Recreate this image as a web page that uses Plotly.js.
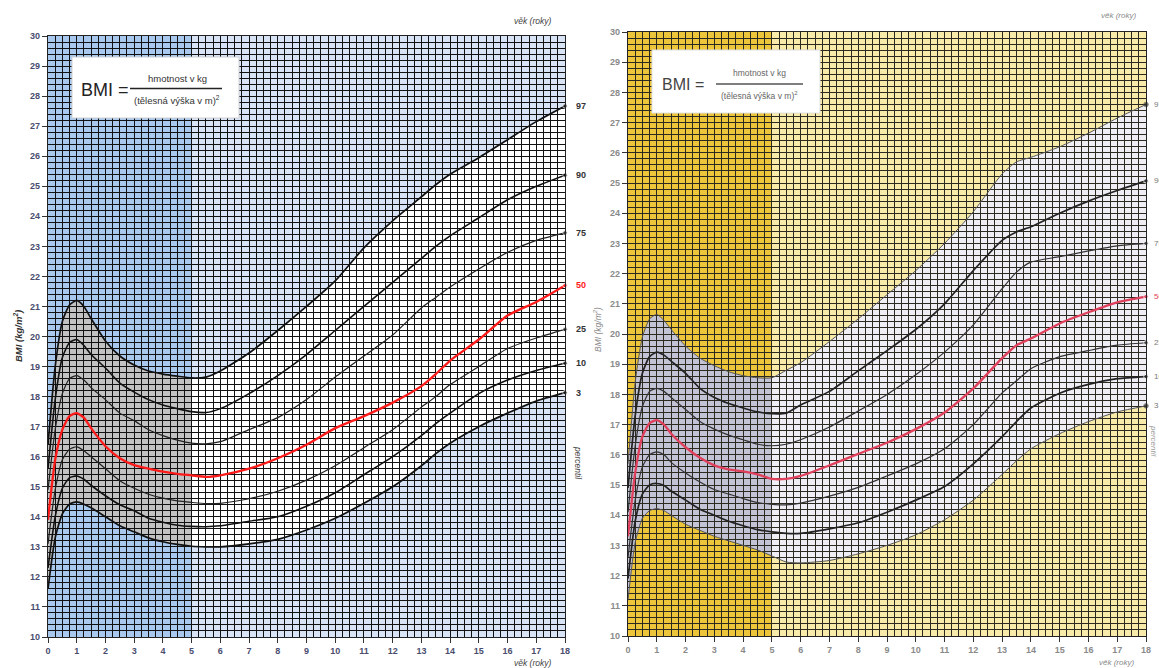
<!DOCTYPE html>
<html><head><meta charset="utf-8">
<script src="https://cdn.plot.ly/plotly-3.0.1.min.js"></script>
<style>html,body{margin:0;padding:0;background:#fff;} #chart{width:1159px;height:668px;}</style>
</head><body><div id="chart"></div>
<script>
// Age in years (x axis of both charts)
const ages = [0,0.25,0.5,0.75,1,1.25,1.5,2,2.5,3,3.5,4,4.5,5,5.5,6,7,8,9,10,11,12,13,13.5,14,15,16,17,18];

// Left chart (boys) BMI percentiles
const boysP97 = [16.4,19.0,20.5,21.05,21.2,21.0,20.6,19.85,19.35,19.05,18.85,18.75,18.68,18.62,18.65,18.85,19.45,20.2,21.0,21.85,22.95,23.85,24.65,25.05,25.4,25.95,26.55,27.15,27.67];
const boysP90 = [15.6,17.9,19.3,19.8,19.9,19.7,19.4,18.95,18.45,18.15,17.9,17.72,17.6,17.5,17.47,17.6,18.1,18.7,19.4,20.2,21.0,21.8,22.6,23.0,23.35,23.95,24.55,25.0,25.37];
const boysP75 = [14.9,16.9,18.1,18.6,18.7,18.55,18.3,17.9,17.45,17.2,16.9,16.7,16.55,16.45,16.43,16.5,16.9,17.3,17.9,18.65,19.35,20.05,20.95,21.3,21.65,22.25,22.8,23.2,23.45];
const boysP50 = [13.9,15.9,16.9,17.35,17.45,17.3,16.95,16.35,15.95,15.72,15.6,15.5,15.43,15.38,15.33,15.38,15.6,15.95,16.4,16.95,17.35,17.8,18.35,18.75,19.2,19.9,20.7,21.15,21.7];
const boysP25 = [13.1,14.9,15.9,16.25,16.33,16.2,16.0,15.6,15.2,14.95,14.75,14.62,14.53,14.48,14.44,14.45,14.6,14.85,15.22,15.7,16.3,16.9,17.65,18.0,18.4,19.0,19.6,19.95,20.24];
const boysP10 = [12.3,14.0,14.95,15.3,15.36,15.25,15.05,14.7,14.4,14.2,13.95,13.82,13.72,13.68,13.67,13.7,13.85,14.0,14.35,14.8,15.4,16.0,16.7,17.1,17.45,18.1,18.55,18.87,19.11];
const boysP3  = [11.6,13.3,14.1,14.42,14.5,14.42,14.3,14.0,13.7,13.5,13.3,13.17,13.08,13.02,13.0,13.0,13.1,13.25,13.56,13.95,14.45,15.0,15.7,16.1,16.45,17.0,17.45,17.85,18.13];

// Right chart (girls) BMI percentiles
const girlsP97 = [15.7,18.4,19.9,20.5,20.65,20.45,20.15,19.6,19.2,18.95,18.75,18.62,18.55,18.55,18.8,19.05,19.75,20.5,21.3,22.1,23.0,24.05,25.3,25.7,25.85,26.2,26.65,27.15,27.6];
const girlsP90 = [14.9,17.3,18.7,19.25,19.4,19.3,19.1,18.7,18.2,17.9,17.7,17.55,17.42,17.36,17.38,17.65,18.1,18.78,19.45,20.15,21.0,22.1,23.1,23.38,23.55,24.0,24.4,24.75,25.07];
const girlsP75 = [14.1,16.3,17.6,18.1,18.2,18.1,17.9,17.5,17.1,16.85,16.65,16.5,16.35,16.3,16.35,16.5,16.92,17.45,18.0,18.65,19.4,20.3,21.5,22.05,22.38,22.56,22.75,22.92,23.0];
const girlsP50 = [13.3,15.4,16.6,17.05,17.15,17.0,16.7,16.25,15.9,15.65,15.52,15.45,15.35,15.2,15.2,15.3,15.65,16.03,16.4,16.85,17.4,18.2,19.2,19.63,19.85,20.35,20.72,21.05,21.24];
const girlsP25 = [12.6,14.5,15.6,16.0,16.1,16.0,15.75,15.4,15.1,14.85,14.7,14.55,14.42,14.36,14.34,14.4,14.63,14.92,15.3,15.7,16.2,17.0,18.05,18.45,18.85,19.25,19.45,19.63,19.71];
const girlsP10 = [11.9,13.8,14.7,15.0,15.05,14.98,14.8,14.5,14.2,14.0,13.8,13.65,13.52,13.45,13.4,13.4,13.55,13.75,14.1,14.5,14.95,15.7,16.6,17.1,17.55,18.04,18.33,18.52,18.59];
const girlsP3  = [11.2,13.1,13.9,14.15,14.22,14.15,14.0,13.7,13.5,13.3,13.15,13.0,12.85,12.65,12.45,12.42,12.5,12.72,13.0,13.35,13.85,14.5,15.35,15.8,16.2,16.7,17.1,17.42,17.62];

const percentileLabels = ['97','90','75','50','25','10','3'];
const xTickVals = [0,1,2,3,4,5,6,7,8,9,10,11,12,13,14,15,16,17,18];
const yTickVals = [10,11,12,13,14,15,16,17,18,19,20,21,22,23,24,25,26,27,28,29,30];
const infantEnd = 5;   // boundary of the shaded 0-5 year zone
const xMin = 0, xMax = 18, yMin = 10, yMax = 30;

const boys  = [boysP97, boysP90, boysP75, boysP50, boysP25, boysP10, boysP3];
const girls = [girlsP97, girlsP90, girlsP75, girlsP50, girlsP25, girlsP10, girlsP3];

const FONT = 'Liberation Sans, Arial, sans-serif';
const W = 1159, H = 668;
const px = v => v / W;
const py = v => 1 - v / H;

function band(xs, up, lo, a, b) {
  const idx = xs.map((x, i) => i).filter(i => xs[i] >= a && xs[i] <= b);
  let p = idx.map((i, k) => (k ? 'L' : 'M') + xs[i] + ',' + up[i]).join(' ');
  p += ' ' + idx.slice().reverse().map(i => 'L' + xs[i] + ',' + lo[i]).join(' ') + ' Z';
  return p;
}

const traces = [];
function addLines(set, xa, ya, styles) {
  set.forEach((arr, k) => {
    const st = styles[k];
    traces.push({
      x: ages, y: arr, xaxis: xa, yaxis: ya, type: 'scatter', mode: 'lines+markers',
      line: {color: st.color, width: st.width, shape: 'spline', smoothing: 0.6},
      marker: {size: ages.map((a, i) => i === ages.length - 1 ? 4.5 : 0), color: st.mcolor || st.color},
      hoverinfo: 'skip', showlegend: false, cliponaxis: false
    });
  });
}
const boyStyles = [
  {color:'#111', width:1.7}, {color:'#111', width:1.6}, {color:'#222', width:1.2},
  {color:'#ff1a1a', width:2.3}, {color:'#222', width:1.2}, {color:'#111', width:1.6}, {color:'#111', width:1.7}
];
const girlStyles = [
  {color:'#555', width:1.0, mcolor:'#222'}, {color:'#222', width:1.7}, {color:'#333', width:1.2},
  {color:'#e0405c', width:2.3}, {color:'#333', width:1.2}, {color:'#222', width:1.7}, {color:'#555', width:1.0, mcolor:'#222'}
];
addLines(boys, 'x', 'y', boyStyles);
addLines(girls, 'x2', 'y2', girlStyles);

function axisX(domain, anchor, tickColor, gridColor) {
  return {
    domain, anchor, range: [xMin, xMax], tickvals: xTickVals, ticktext: xTickVals.map(String),
    ticks: 'outside', ticklen: 5, tickwidth: 1, tickcolor: '#333',
    showgrid: true, gridcolor: gridColor, gridwidth: 1,
    minor: {dtick: 0.25, tick0: 0, showgrid: true, gridcolor: gridColor, gridwidth: 1},
    showline: true, linecolor: '#222', linewidth: 1.2, mirror: true, zeroline: false,
    tickfont: {size: 9, color: tickColor, family: FONT, weight: 700}, fixedrange: true
  };
}
function axisY(domain, anchor, tickColor, gridColor) {
  return {
    domain, anchor, range: [yMin, yMax], tickvals: yTickVals, ticktext: yTickVals.map(String),
    ticks: 'outside', ticklen: 5, tickwidth: 1, tickcolor: '#333',
    showgrid: true, gridcolor: gridColor, gridwidth: 1,
    minor: {dtick: 0.2, tick0: 0, showgrid: true, gridcolor: gridColor, gridwidth: 1},
    showline: true, linecolor: '#222', linewidth: 1.2, mirror: true, zeroline: false,
    tickfont: {size: 9, color: tickColor, family: FONT, weight: 700}, fixedrange: true
  };
}

const shapes = [
  // boys backgrounds
  {type:'rect', xref:'x', yref:'y', x0:xMin, x1:infantEnd, y0:yMin, y1:yMax, fillcolor:'#a9c8ee', line:{width:0}, layer:'below'},
  {type:'rect', xref:'x', yref:'y', x0:infantEnd, x1:xMax, y0:yMin, y1:yMax, fillcolor:'#d8e4f6', line:{width:0}, layer:'below'},
  {type:'path', xref:'x', yref:'y', path: band(ages, boysP97, boysP3, xMin, infantEnd), fillcolor:'#c2c2c2', line:{width:0}, layer:'below'},
  {type:'path', xref:'x', yref:'y', path: band(ages, boysP97, boysP3, infantEnd, xMax), fillcolor:'#ffffff', line:{width:0}, layer:'below'},
  // girls backgrounds
  {type:'rect', xref:'x2', yref:'y2', x0:xMin, x1:infantEnd, y0:yMin, y1:yMax, fillcolor:'#ecc53a', line:{width:0}, layer:'below'},
  {type:'rect', xref:'x2', yref:'y2', x0:infantEnd, x1:xMax, y0:yMin, y1:yMax, fillcolor:'#f8eaa8', line:{width:0}, layer:'below'},
  {type:'path', xref:'x2', yref:'y2', path: band(ages, girlsP97, girlsP3, xMin, infantEnd), fillcolor:'#c3c3d6', line:{width:0}, layer:'below'},
  {type:'path', xref:'x2', yref:'y2', path: band(ages, girlsP97, girlsP3, infantEnd, xMax), fillcolor:'#eeeef4', line:{width:0}, layer:'below'},
  // formula boxes
  {type:'rect', xref:'paper', yref:'paper', x0:px(72), x1:px(239), y0:py(118), y1:py(57), fillcolor:'#ffffff', line:{color:'#d0d0d0', width:1}, layer:'above'},
  {type:'line', xref:'paper', yref:'paper', x0:px(130), x1:px(222), y0:py(88.5), y1:py(88.5), line:{color:'#222', width:1.5}, layer:'above'},
  {type:'rect', xref:'paper', yref:'paper', x0:px(652), x1:px(820), y0:py(113), y1:py(50), fillcolor:'#ffffff', line:{color:'#e0e0e0', width:1}, layer:'above'},
  {type:'line', xref:'paper', yref:'paper', x0:px(716), x1:px(803), y0:py(84), y1:py(84), line:{color:'#555', width:1.4}, layer:'above'}
];

const ann = [];
function txt(x, y, text, opts) {
  ann.push(Object.assign({xref:'paper', yref:'paper', x:px(x), y:py(y), text, showarrow:false,
    xanchor:'center', yanchor:'middle', font:{family:FONT, size:9, color:'#333'}}, opts || {}));
}
// formula texts
txt(105, 90, 'BMI =', {font:{family:FONT, size:18, color:'#222'}});
txt(177, 79, 'hmotnost v kg', {font:{family:FONT, size:9.5, color:'#333'}});
txt(177, 100, '(tělesná výška v m)<sup>2</sup>', {font:{family:FONT, size:9.5, color:'#333'}});
txt(683, 84, 'BMI =', {font:{family:FONT, size:16, color:'#444'}});
txt(760, 73, 'hmotnost v kg', {font:{family:FONT, size:8.5, color:'#666'}});
txt(760, 95, '(tělesná výška v m)<sup>2</sup>', {font:{family:FONT, size:8.5, color:'#666'}});
// axis titles
txt(532, 21, 'věk (roky)', {font:{family:FONT, size:8.5, color:'#444', style:'italic'}});
txt(532, 663, 'věk (roky)', {font:{family:FONT, size:8.5, color:'#444', style:'italic'}});
txt(1118, 16, 'věk (roky)', {font:{family:FONT, size:8, color:'#888', style:'italic'}});
txt(1116, 662, 'věk (roky)', {font:{family:FONT, size:8, color:'#888', style:'italic'}});
txt(18, 336, 'BMI (kg/m<sup>2</sup>)', {textangle:-90, font:{family:FONT, size:9.5, color:'#333', weight:700, style:'italic'}});
txt(597, 330, 'BMI (kg/m<sup>2</sup>)', {textangle:-90, font:{family:FONT, size:8.5, color:'#888', style:'italic'}});
txt(578, 463, 'percentil', {textangle:90, font:{family:FONT, size:8.5, color:'#444', style:'italic'}});
txt(1154, 440, 'percentil', {textangle:90, font:{family:FONT, size:8, color:'#999', style:'italic'}});

// percentile labels at the line ends
boys.forEach((arr, k) => ann.push({xref:'x', yref:'y', x:xMax, y:arr[arr.length-1], text:percentileLabels[k],
  showarrow:false, xanchor:'left', yanchor:'middle', xshift:9,
  font:{family:FONT, size:9, color: percentileLabels[k]==='50' ? '#ff1a1a' : '#333', weight:700}}));
girls.forEach((arr, k) => ann.push({xref:'x2', yref:'y2', x:xMax, y:arr[arr.length-1], text:percentileLabels[k],
  showarrow:false, xanchor:'left', yanchor:'middle', xshift:6,
  font:{family:FONT, size:8, color: percentileLabels[k]==='50' ? '#e0405c' : '#777'}}));

const layout = {
  width: W, height: H, margin: {l:0, r:0, t:0, b:0},
  paper_bgcolor: '#ffffff', plot_bgcolor: '#ffffff', showlegend: false,
  font: {family: FONT},
  xaxis: axisX([px(48), px(565)], 'y', '#4a4d6e', '#111111'),
  yaxis: axisY([py(637), py(36)], 'x', '#4a4d6e', '#111111'),
  xaxis2: axisX([px(628), px(1146)], 'y2', '#8a8a8a', '#2c2a20'),
  yaxis2: axisY([py(636), py(32)], 'x2', '#8a8a8a', '#2c2a20'),
  shapes, annotations: ann
};

Plotly.newPlot('chart', traces, layout, {staticPlot: true, displayModeBar: false});
</script>
</body></html>
